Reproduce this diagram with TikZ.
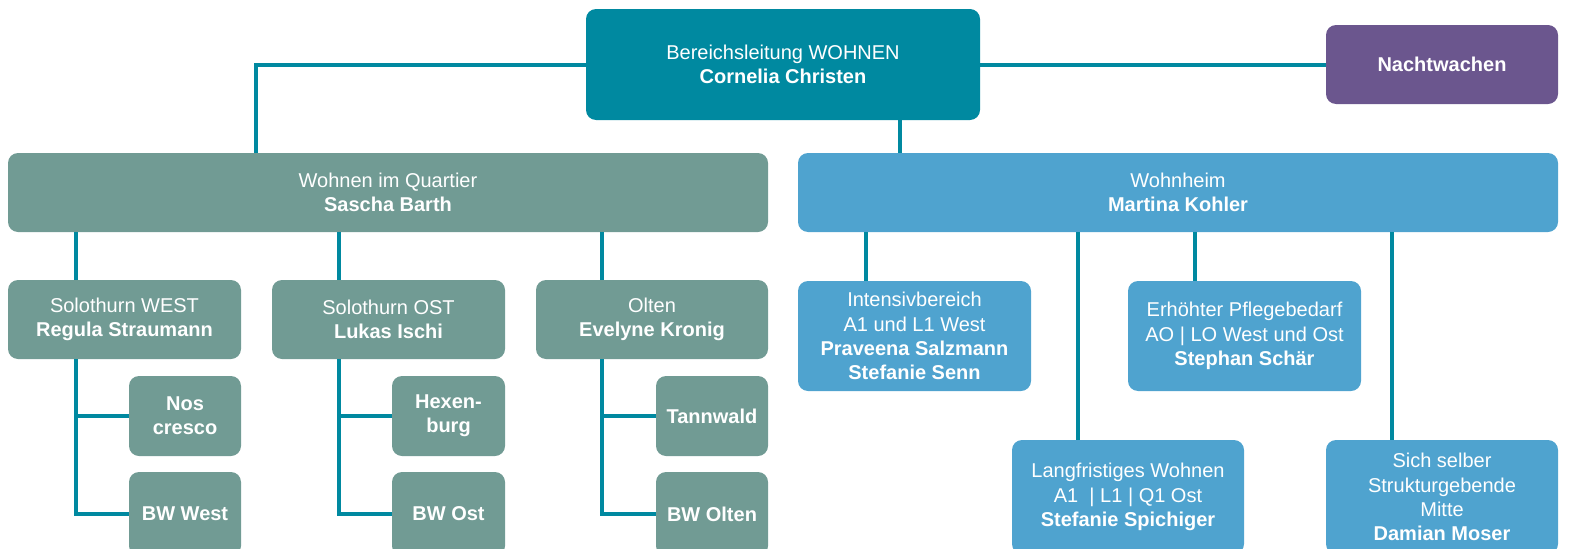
\documentclass[tikz,border=0pt]{standalone}
\usepackage{fontspec}
\setmainfont{Liberation Sans}
\definecolor{linecol}{RGB}{0,137,160}
\definecolor{topcol}{RGB}{0,137,160}
\definecolor{nightcol}{RGB}{107,86,142}
\definecolor{quartcol}{RGB}{113,155,148}
\definecolor{heimcol}{RGB}{79,163,207}
\tikzset{
  orgbox/.style={rounded corners=10bp,text=white,align=center,inner sep=0pt,
    font=\fontsize{20bp}{24.2bp}\selectfont},
  link/.style={draw=linecol,line width=4bp},
}
\begin{document}
\begin{tikzpicture}[line join=miter,]
\useasboundingbox (0bp,0bp) rectangle (1575bp,-549bp);
%%
\node (node_leitung) at (783bp,-64.5bp) [orgbox,fill=topcol,minimum width=394bp,minimum height=111bp] {Bereichsleitung WOHNEN\\\textbf{Cornelia Christen}};
  \node (node_nacht) at (1442bp,-64.5bp) [orgbox,fill=nightcol,minimum width=232bp,minimum height=79bp] {\textbf{Nachtwachen}};
  \node (node_quartier) at (388bp,-192.5bp) [orgbox,fill=quartcol,minimum width=760bp,minimum height=79bp] {Wohnen im Quartier\\\textbf{Sascha Barth}};
  \node (node_heim) at (1178bp,-192.5bp) [orgbox,fill=heimcol,minimum width=760bp,minimum height=79bp] {Wohnheim\\\textbf{Martina Kohler}};
%
  \node (node_west) at (124.5bp,-319.5bp) [orgbox,fill=quartcol,minimum width=233bp,minimum height=79bp] {Solothurn WEST\\\textbf{Regula Straumann}};
  \node (node_ost) at (388.5bp,-319.5bp) [orgbox,fill=quartcol,minimum width=233bp,minimum height=79bp] {Solothurn OST\\\textbf{Lukas Ischi}};
  \node (node_olten) at (652bp,-319.5bp) [orgbox,fill=quartcol,minimum width=232bp,minimum height=79bp] {Olten\\\textbf{Evelyne Kronig}};
  \node (node_nos) at (185bp,-416bp) [orgbox,fill=quartcol,minimum width=112bp,minimum height=80bp] {\textbf{Nos}\\\textbf{cresco}};
  \node (node_bwwest) at (185bp,-514bp) [orgbox,fill=quartcol,minimum width=112bp,minimum height=84bp] {\textbf{BW West}};
  \node (node_hexen) at (448.5bp,-416bp) [orgbox,fill=quartcol,minimum width=113bp,minimum height=80bp] {\textbf{Hexen-}\\\textbf{burg}};
  \node (node_bwost) at (448.5bp,-514bp) [orgbox,fill=quartcol,minimum width=113bp,minimum height=84bp] {\textbf{BW Ost}};
  \node (node_tann) at (712bp,-416bp) [orgbox,fill=quartcol,minimum width=112bp,minimum height=80bp] {\textbf{Tannwald}};
  \node (node_bwolten) at (712bp,-514bp) [orgbox,fill=quartcol,minimum width=112bp,minimum height=84bp] {\textbf{BW Olten}};
%
  \node (node_intens) at (914.5bp,-336bp) [orgbox,fill=heimcol,minimum width=233bp,minimum height=110bp] {Intensivbereich\\A1 und L1 West\\\textbf{Praveena Salzmann}\\\textbf{Stefanie Senn}};
  \node (node_pflege) at (1244.5bp,-336bp) [orgbox,fill=heimcol,minimum width=233bp,minimum height=110bp] {Erhöhter Pflegebedarf\\AO | LO West und Ost\\\textbf{Stephan Schär}};
  \node (node_lang) at (1128bp,-497bp) [orgbox,fill=heimcol,minimum width=232bp,minimum height=114bp] {Langfristiges Wohnen\\A1 \ | L1 | Q1 Ost\\\textbf{Stefanie Spichiger}};
  \node (node_mitte) at (1442bp,-497bp) [orgbox,fill=heimcol,minimum width=232bp,minimum height=114bp] {Sich selber\\Strukturgebende\\Mitte\\\textbf{Damian Moser}};
%
  \coordinate (stem_west) at ([xshift=-48.5bp]node_west.south);
  \coordinate (stem_ost) at ([xshift=-49.5bp]node_ost.south);
  \coordinate (stem_olten) at ([xshift=-50bp]node_olten.south);
  \draw [link] (node_leitung.west) -| ([xshift=-132bp]node_quartier.north);
  \draw [link] (node_leitung.east) -- (node_nacht.west);
  \draw [link] ([xshift=117bp]node_leitung.south) -- ([xshift=117bp]node_leitung.south |- node_heim.north);
  \draw [link] ([xshift=-48.5bp]node_west.north) -- ([xshift=-48.5bp]node_west.north |- node_quartier.south);
  \draw [link] ([xshift=-49.5bp]node_ost.north) -- ([xshift=-49.5bp]node_ost.north |- node_quartier.south);
  \draw [link] ([xshift=-50bp]node_olten.north) -- ([xshift=-50bp]node_olten.north |- node_quartier.south);
  \draw [link] (stem_west) |- (node_bwwest.west);
  \draw [link] (node_nos.west) -- (node_nos.west -| stem_west);
  \draw [link] (stem_ost) |- (node_bwost.west);
  \draw [link] (node_hexen.west) -- (node_hexen.west -| stem_ost);
  \draw [link] (stem_olten) |- (node_bwolten.west);
  \draw [link] (node_tann.west) -- (node_tann.west -| stem_olten);
  \draw [link] ([xshift=-48.5bp]node_intens.north) -- ([xshift=-48.5bp]node_intens.north |- node_heim.south);
  \draw [link] ([xshift=-49.5bp]node_pflege.north) -- ([xshift=-49.5bp]node_pflege.north |- node_heim.south);
  \draw [link] ([xshift=-50bp]node_lang.north) -- ([xshift=-50bp]node_lang.north |- node_heim.south);
  \draw [link] ([xshift=-50bp]node_mitte.north) -- ([xshift=-50bp]node_mitte.north |- node_heim.south);
%
\end{tikzpicture}
\end{document}
